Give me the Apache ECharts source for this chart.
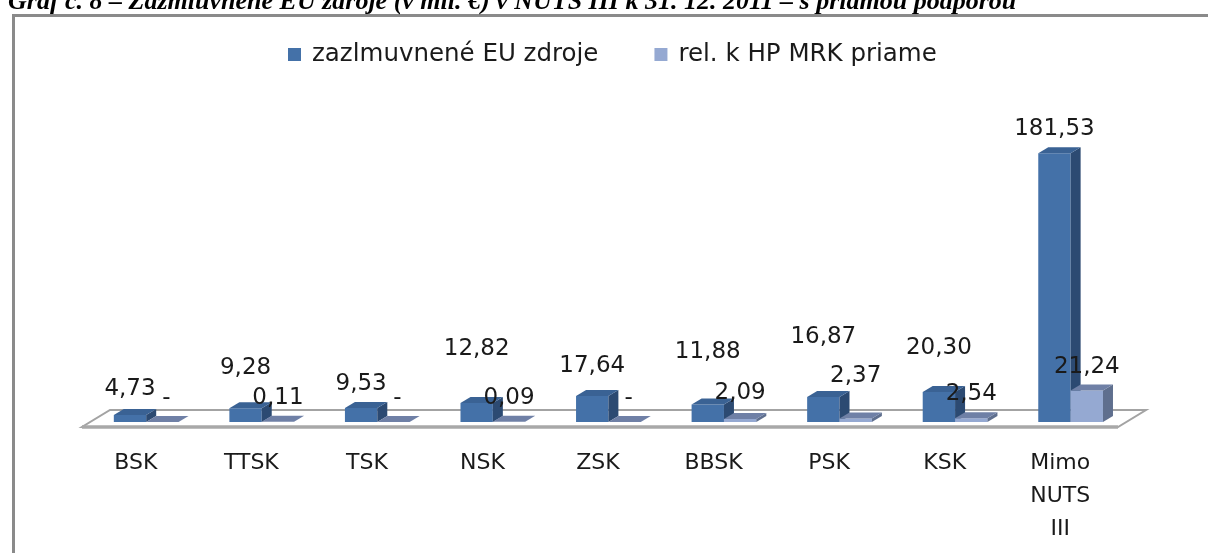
<!DOCTYPE html>
<html>
<head>
<meta charset="utf-8">
<script src="https://cdn.jsdelivr.net/npm/echarts@6/dist/echarts.min.js"></script>
<style>
html,body{margin:0;padding:0;background:#fff;}
#chart{width:1208px;height:553px;}
</style>
</head>
<body>
<div id="chart"></div>
<script>
const titleText = 'Graf č. 8 – Zazmluvnené EU zdroje (v mil. €) v NUTS III k 31. 12. 2011 – s priamou podporou';
const categories = ['BSK', 'TTSK', 'TSK', 'NSK', 'ZSK', 'BBSK', 'PSK', 'KSK', 'Mimo\nNUTS\nIII'];
const seriesNames = ['zazlmuvnené EU zdroje', 'rel. k HP MRK priame'];
const euFunds = [4.73, 9.28, 9.53, 12.82, 17.64, 11.88, 16.87, 20.30, 181.53];
const mrkDirect = [0, 0.11, 0, 0.09, 0, 2.09, 2.37, 2.54, 21.24]; // 0 is shown as "-"

// extra lift (px) of the value labels, as placed in the original chart
const labelLift = [
  [2, 16, 0, 30, 6, 28, 36, 20, 0],
  [0, 0, 0, 0, 0, 2, 18, 0, 0]
];

const palette = [
  {front: '#4471a8', side: '#2c4a72', top: '#3a6294'},
  {front: '#95a9d2', side: '#5f6f8e', top: '#6f80a6'}
];

const FONT = '"DejaVu Sans"';
const DX = 10, DY = -6;
const fmt = v => v === 0 ? '-' : v.toFixed(2).replace('.', ',');

function makeBarRender(si) {
  return function (params, api) {
    const i = api.value(0), v = api.value(1);
    const base = api.coord([i, 0]);
    const top = api.coord([i, v]);
    const band = api.size([1, 0])[0];
    const w = band * 0.28;
    const x0 = base[0] - 0.19 * band + (si === 1 ? w : 0);
    const yb = base[1], yt = top[1];
    const c = palette[si];
    const children = [];
    if (yb - yt > 0.5) {
      children.push({type: 'rect', shape: {x: x0, y: yt, width: w, height: yb - yt}, style: {fill: c.front}});
      children.push({type: 'polygon', shape: {points: [[x0 + w, yb], [x0 + w + DX, yb + DY], [x0 + w + DX, yt + DY], [x0 + w, yt]]}, style: {fill: c.side}});
    }
    children.push({type: 'polygon', shape: {points: [[x0, yt], [x0 + w, yt], [x0 + w + DX, yt + DY], [x0 + DX, yt + DY]]}, style: {fill: c.top}});
    children.push({
      type: 'text', z2: 100,
      style: {
        x: x0 + w / 2 + (v === 0 ? 4 : 0), y: yt - 24 - labelLift[si][i],
        text: fmt(v), align: 'center', verticalAlign: 'middle',
        font: '23px ' + FONT, fill: '#1a1a1a'
      }
    });
    return {type: 'group', children: children};
  };
}

function floorRender(params, api) {
  const cs = params.coordSys;
  const yb = cs.y + cs.height;
  const xl = cs.x, xr = cs.x + cs.width;
  return {
    type: 'group',
    children: [
      {type: 'polygon', shape: {points: [[xl + 4, yb + 5], [xr, yb + 5], [xr + 28, yb - 12], [xl + 32, yb - 12]]},
        style: {fill: '#ffffff', stroke: '#a3a3a3', lineWidth: 2}},
      {type: 'line', shape: {x1: xl + 4, y1: yb + 5, x2: xr, y2: yb + 5}, style: {stroke: '#a8a8a8', lineWidth: 3.5}}
    ]
  };
}

const chart = echarts.init(document.getElementById('chart'), null, {renderer: 'canvas'});
chart.setOption({
  animation: false,
  backgroundColor: '#ffffff',
  graphic: [
    {type: 'rect', left: 11, top: 13, shape: {x: 0, y: 0, width: 1210, height: 560},
      style: {fill: 'none', stroke: '#8a8a8a', lineWidth: 3}, z: -10},
    {type: 'text', x: 8, y: 15, z: 10,
      style: {text: titleText, font: 'italic bold 26px "Liberation Serif"', fill: '#000',
        verticalAlign: 'bottom', align: 'left'}}
  ],
  legend: {
    data: seriesNames,
    left: 283, top: 37,
    icon: 'rect', itemWidth: 13, itemHeight: 13, itemGap: 56,
    textStyle: {fontFamily: 'DejaVu Sans', fontSize: 24.5, color: '#1a1a1a', padding: [0, 0, 0, 6]}
  },
  grid: {left: 78, right: 90, top: 126, bottom: 131},
  xAxis: {
    type: 'category', data: categories,
    axisLine: {show: false}, axisTick: {show: false},
    axisLabel: {fontFamily: 'DejaVu Sans', fontSize: 22, color: '#1a1a1a', margin: 25, lineHeight: 33, interval: 0}
  },
  yAxis: {type: 'value', min: 0, max: 200, show: false, splitLine: {show: false}},
  series: [
    {type: 'custom', name: 'floor', renderItem: floorRender, data: [[0, 0]], z: 1, silent: true, clip: false},
    {type: 'custom', name: seriesNames[0], renderItem: makeBarRender(0), clip: false, z: 2,
      itemStyle: {color: palette[0].front}, encode: {x: 0, y: 1},
      data: euFunds.map((v, i) => [i, v])},
    {type: 'custom', name: seriesNames[1], renderItem: makeBarRender(1), clip: false, z: 3,
      itemStyle: {color: palette[1].front}, encode: {x: 0, y: 1},
      data: mrkDirect.map((v, i) => [i, v])}
  ]
});
</script>
</body>
</html>
